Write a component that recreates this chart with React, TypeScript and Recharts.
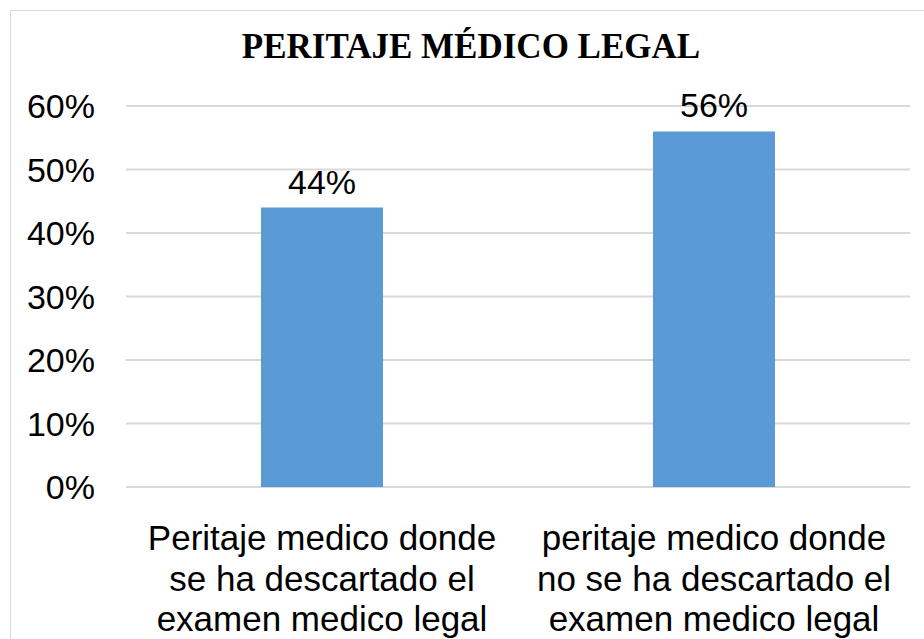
import React from 'react';
import { BarChart, Bar, XAxis, YAxis, CartesianGrid, LabelList } from 'recharts';

const categories = [
  ['Peritaje medico donde', 'se ha descartado el', 'examen medico legal'],
  ['peritaje medico donde', 'no se ha descartado el', 'examen medico legal'],
];
const shares = [0.44, 0.56];
const yTicks = [0, 0.1, 0.2, 0.3, 0.4, 0.5, 0.6];

const data = categories.map((lines, i) => ({ name: lines.join('\n'), value: shares[i] }));

const pct = (v: number) => `${Math.round(v * 100)}%`;
const sans = "'Liberation Sans', Arial, sans-serif";

const CategoryTick = ({ x, y, payload }: any) => {
  const lines = String(payload.value).split('\n');
  return (
    <text x={x} y={y} textAnchor="middle" fill="#000" fontSize={35} fontFamily={sans}>
      {lines.map((l, i) => (
        <tspan key={i} x={x} y={y + 55 + i * 40.5}>{l}</tspan>
      ))}
    </text>
  );
};

export default function App() {
  return (
    <div style={{ position: 'fixed', left: 0, top: 0, width: 924, height: 639, background: '#fff', overflow: 'hidden' }}>
      <div style={{ position: 'absolute', left: 10, top: 10, width: 940, height: 660, border: '1px solid #d9d9d9' }} />
      <div style={{ position: 'absolute', left: 0, top: 0 }}>
        <BarChart width={924} height={639} data={data} margin={{ top: 106, right: 14, left: 0, bottom: 12 }} barCategoryGap={135}>
          <text x={471} y={58} textAnchor="middle" fontSize={35} fontWeight="bold" fill="#000" fontFamily="'Liberation Serif', 'Times New Roman', serif">
            PERITAJE MÉDICO LEGAL
          </text>
          <CartesianGrid vertical={false} stroke="#d9d9d9" strokeWidth={2} />
          <XAxis dataKey="name" height={140} axisLine={false} tickLine={false} tick={<CategoryTick />} interval={0} />
          <YAxis
            width={126}
            domain={[0, 0.6]}
            ticks={yTicks}
            tickFormatter={pct}
            axisLine={false}
            tickLine={false}
            tickSize={0}
            tickMargin={31}
            tick={{ fill: '#000', fontSize: 34, fontFamily: sans }}
          />
          <Bar dataKey="value" fill="#5b9bd5" isAnimationActive={false}>
            <LabelList dataKey="value" position="top" offset={14} formatter={(v: any) => pct(Number(v))} fill="#000" fontSize={34} fontFamily={sans} />
          </Bar>
        </BarChart>
      </div>
    </div>
  );
}
